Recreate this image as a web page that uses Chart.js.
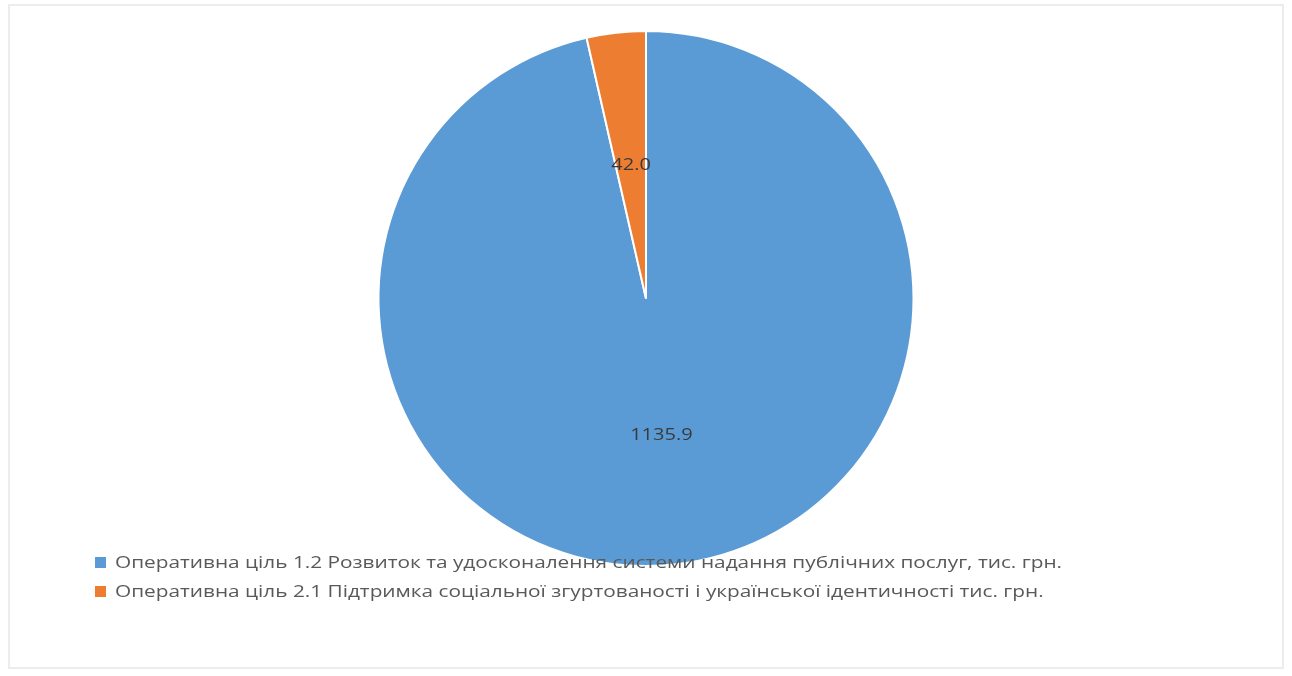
<!DOCTYPE html>
<html>
<head>
<meta charset="utf-8">
<script src="https://cdn.jsdelivr.net/npm/chart.js@4"></script>
<style>
  html, body { margin:0; padding:0; background:#fff; }
  #wrap { position:relative; width:1292px; height:676px; }
  #frame { position:absolute; left:8px; top:4px; width:1276px; height:665px; border:2px solid #ececec; box-sizing:border-box; pointer-events:none; }
  canvas { position:absolute; left:0; top:0; }
</style>
</head>
<body>
<div id="wrap">
  <canvas id="c" width="1292" height="676"></canvas>
  <div id="frame"></div>
</div>
<script>
const categories = [
  "Оперативна ціль 1.2 Розвиток та удосконалення системи надання публічних послуг, тис. грн.",
  "Оперативна ціль 2.1 Підтримка соціальної згуртованості і української ідентичності тис. грн."
];
const values = [1135.9, 42.0];
const valueLabels = ["1135.9", "42.0"];
const colors = ["#5B9BD5", "#ED7D31"];

function stretchedText(ctx, text, x, y, sx) {
  ctx.save();
  ctx.translate(x, y);
  ctx.scale(sx, 1);
  ctx.fillText(text, 0, 0);
  ctx.restore();
}

const labelPlugin = {
  id: 'sliceLabels',
  afterDatasetsDraw(chart) {
    const ctx = chart.ctx;
    const meta = chart.getDatasetMeta(0);
    const radial = [0.515, 0.5];
    ctx.save();
    ctx.font = '16px "Open Sans", sans-serif';
    ctx.fillStyle = '#3a3a3a';
    ctx.textAlign = 'center';
    ctx.textBaseline = 'middle';
    meta.data.forEach((arc, i) => {
      const p = arc.getProps(['x','y','startAngle','endAngle','outerRadius'], true);
      const mid = (p.startAngle + p.endAngle) / 2;
      const r = p.outerRadius * radial[i];
      stretchedText(ctx, valueLabels[i], p.x + Math.cos(mid) * r, p.y + Math.sin(mid) * r, 1.25);
    });
    // legend
    ctx.font = '16px "Open Sans", sans-serif';
    ctx.textAlign = 'left';
    const w0 = ctx.measureText(categories[0]).width;
    const sx = 947 / w0;
    const lx = 95, ly = [563, 592];
    categories.forEach((t, i) => {
      ctx.fillStyle = colors[i];
      ctx.fillRect(lx, ly[i] - 6, 11, 11);
      ctx.fillStyle = '#595959';
      stretchedText(ctx, t, lx + 20, ly[i], sx);
    });
    ctx.restore();
  }
};

new Chart(document.getElementById('c'), {
  type: 'pie',
  data: {
    labels: categories,
    datasets: [{
      data: values,
      backgroundColor: colors,
      borderColor: '#ffffff',
      borderWidth: 2
    }]
  },
  options: {
    responsive: false,
    animation: false,
    layout: { padding: { top: 30, bottom: 109, left: 0, right: 0 } },
    plugins: { legend: { display: false }, tooltip: { enabled: false } }
  },
  plugins: [labelPlugin]
});
</script>
</body>
</html>
